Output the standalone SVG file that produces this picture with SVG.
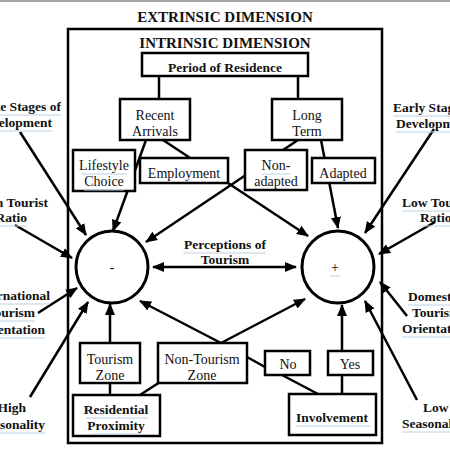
<svg xmlns="http://www.w3.org/2000/svg" width="450" height="450" viewBox="0 0 450 450">
<defs>
<marker id="ah" viewBox="0 0 12 10" refX="11" refY="5" markerWidth="12" markerHeight="10" markerUnits="userSpaceOnUse" orient="auto-start-reverse">
<path d="M0,0 L12,5 L0,10 z" fill="#000"/>
</marker>
<style>
.t{font-family:"Liberation Serif","Times New Roman",serif;font-size:14px;fill:#111;text-anchor:middle}
.b{font-family:"Liberation Serif","Times New Roman",serif;font-size:13.5px;font-weight:bold;fill:#111;text-anchor:middle}
.h{font-family:"Liberation Serif","Times New Roman",serif;font-size:15px;font-weight:bold;fill:#111;text-anchor:middle}
.e{text-anchor:end}
.s{text-anchor:start}
.box{fill:#fff;stroke:#000;stroke-width:2.5}
.c{fill:#fff;stroke:#000;stroke-width:3}
.ln{stroke:#000;stroke-width:2.5;fill:none}
.ar{stroke:#000;stroke-width:2.5;fill:none;marker-end:url(#ah)}
.ul{stroke:#bcd0e2;stroke-width:1}
</style>
</defs>
<rect width="450" height="450" fill="#fff"/>
<line x1="0" y1="1" x2="450" y2="1" stroke="#888" stroke-width="1.5"/>
<text class="h" x="225" y="22">EXTRINSIC DIMENSION</text>
<rect id="intrinsic" x="68" y="29" width="314" height="414" fill="none" stroke="#000" stroke-width="2.5"/>
<text class="h" x="225" y="48">INTRINSIC DIMENSION</text>

<g id="connectors">
<line class="ln" x1="159" y1="76" x2="159" y2="99"/>
<line class="ln" x1="298" y1="76" x2="298" y2="99"/>
<line class="ar" x1="146" y1="140" x2="113" y2="231"/>
<line class="ar" x1="163" y1="140" x2="308" y2="236"/>
<line class="ar" x1="298" y1="140" x2="146" y2="242"/>
<line class="ar" x1="321" y1="140" x2="338" y2="228"/>
<line class="ar" x1="20" y1="132" x2="86" y2="235"/>
<line class="ar" x1="15" y1="225" x2="72" y2="258"/>
<line class="ar" x1="38" y1="313" x2="77" y2="288"/>
<line class="ar" x1="30" y1="397" x2="88" y2="302"/>
<line class="ar" x1="434" y1="129" x2="365" y2="233"/>
<line class="ar" x1="435" y1="222" x2="379" y2="254"/>
<line class="ar" x1="407" y1="316" x2="380" y2="282"/>
<line class="ar" x1="417" y1="400" x2="365" y2="301"/>
<line class="ar" x1="153" y1="267" x2="296" y2="267" marker-start="url(#ah)"/>
<line class="ar" x1="110" y1="343" x2="110" y2="304"/>
<line class="ar" x1="221" y1="343" x2="140" y2="301"/>
<line class="ar" x1="221" y1="343" x2="305" y2="299"/>
<line class="ar" x1="342" y1="351" x2="342" y2="305"/>
<line class="ln" x1="110" y1="383" x2="110" y2="395"/>
<line class="ln" x1="140" y1="395" x2="160" y2="382"/>
<line class="ln" x1="247" y1="357" x2="265" y2="367"/>
<line class="ln" x1="282" y1="375" x2="318" y2="394"/>
<line class="ln" x1="342" y1="375" x2="342" y2="394"/>
</g>

<g id="period">
<rect class="box" x="142" y="53" width="166" height="23"/>
<text class="b" x="225" y="72">Period of Residence</text>
</g>
<g id="recent">
<rect class="box" x="120" y="99" width="70" height="41"/>
<text class="t" x="155" y="120">Recent</text>
<text class="t" x="155" y="136">Arrivals</text>
</g>
<g id="long">
<rect class="box" x="272" y="99" width="70" height="41"/>
<text class="t" x="307" y="120">Long</text>
<text class="t" x="307" y="136">Term</text>
</g>
<g id="lifestyle">
<rect class="box" x="73" y="150" width="62" height="41"/>
<text class="t" x="104" y="170">Lifestyle</text>
<text class="t" x="104" y="186">Choice</text>
</g>
<g id="employment">
<rect class="box" x="140" y="158" width="88" height="25"/>
<text class="t" x="184" y="178">Employment</text>
</g>
<g id="nonadapted">
<rect class="box" x="245" y="150" width="62" height="40"/>
<text class="t" x="276" y="170">Non-</text>
<text class="t" x="276" y="186">adapted</text>
</g>
<g id="adapted">
<rect class="box" x="312" y="158" width="63" height="25"/>
<text class="t" x="343" y="178">Adapted</text>
</g>
<g id="minus">
<circle class="c" cx="112" cy="267" r="36"/>
<text class="t" x="112" y="272">-</text>
</g>
<g id="plus">
<circle class="c" cx="338" cy="267" r="36"/>
<text class="t" x="335" y="272">+</text>
</g>
<g id="perceptions">
<text class="b" x="225" y="249">Perceptions of</text>
<text class="b" x="225" y="264">Tourism</text>
</g>
<g id="tourismzone">
<rect class="box" x="80" y="343" width="60" height="40"/>
<text class="t" x="110" y="364">Tourism</text>
<text class="t" x="110" y="380">Zone</text>
</g>
<g id="nontourismzone">
<rect class="box" x="158" y="343" width="89" height="40"/>
<text class="t" x="202" y="364">Non-Tourism</text>
<text class="t" x="202" y="380">Zone</text>
</g>
<g id="no">
<rect class="box" x="265" y="351" width="45" height="24"/>
<text class="t" x="288" y="369">No</text>
</g>
<g id="yes">
<rect class="box" x="328" y="351" width="45" height="24"/>
<text class="t" x="350" y="369">Yes</text>
</g>
<g id="residential">
<rect class="box" x="73" y="395" width="87" height="41"/>
<text class="b" x="116" y="414">Residential</text>
<text class="b" x="116" y="430">Proximity</text>
</g>
<g id="involvement">
<rect class="box" x="289" y="394" width="87" height="41"/>
<text class="b" x="332" y="422">Involvement</text>
</g>

<g id="late-stages"><text class="b e" x="61" y="111">Late Stages of</text><text class="b e" x="52" y="127">Development</text></g>
<g id="high-ratio"><text class="b e" x="48" y="207">High Tourist</text><text class="b e" x="27" y="222">Ratio</text></g>
<g id="international"><text class="b e" x="50" y="300">International</text><text class="b e" x="35" y="317">Tourism</text><text class="b e" x="45" y="334">Orientation</text></g>
<g id="high-season"><text class="b e" x="26" y="412">High</text><text class="b e" x="45" y="429">Seasonality</text></g>
<g id="early-stages"><text class="b s" x="393" y="112">Early Stages of</text><text class="b s" x="396" y="128">Development</text></g>
<g id="low-ratio"><text class="b s" x="402" y="207">Low Tourist</text><text class="b s" x="420" y="222">Ratio</text></g>
<g id="domestic"><text class="b s" x="408" y="301">Domestic</text><text class="b s" x="412" y="317">Tourism</text><text class="b s" x="402" y="333">Orientation</text></g>
<g id="low-season"><text class="b s" x="423" y="412">Low</text><text class="b s" x="402" y="428">Seasonality</text></g>

<g id="underlines">
<line class="ul" x1="0" y1="115" x2="61" y2="115"/>
<line class="ul" x1="0" y1="131" x2="52" y2="131"/>
<line class="ul" x1="0" y1="226" x2="27" y2="226"/>
<line class="ul" x1="0" y1="304" x2="50" y2="304"/>
<line class="ul" x1="0" y1="321" x2="35" y2="321"/>
<line class="ul" x1="0" y1="338" x2="45" y2="338"/>
<line class="ul" x1="0" y1="433" x2="45" y2="433"/>
<line class="ul" x1="393" y1="116" x2="450" y2="116"/>
<line class="ul" x1="396" y1="132" x2="450" y2="132"/>
<line class="ul" x1="402" y1="211" x2="450" y2="211"/>
<line class="ul" x1="420" y1="226" x2="450" y2="226"/>
<line class="ul" x1="408" y1="305" x2="450" y2="305"/>
<line class="ul" x1="402" y1="337" x2="450" y2="337"/>
<line class="ul" x1="402" y1="432" x2="450" y2="432"/>
<line class="ul" x1="183" y1="253" x2="266" y2="253"/>
<line class="ul" x1="81" y1="174" x2="127" y2="174"/>
<line class="ul" x1="84" y1="190" x2="124" y2="190"/>
<line class="ul" x1="262" y1="174" x2="290" y2="174"/>
<line class="ul" x1="330" y1="276" x2="340" y2="276"/>
<line class="ul" x1="86" y1="418" x2="148" y2="418"/>
<line class="ul" x1="90" y1="434" x2="142" y2="434"/>
<line class="ul" x1="296" y1="426" x2="370" y2="426"/>
</g>
</svg>
